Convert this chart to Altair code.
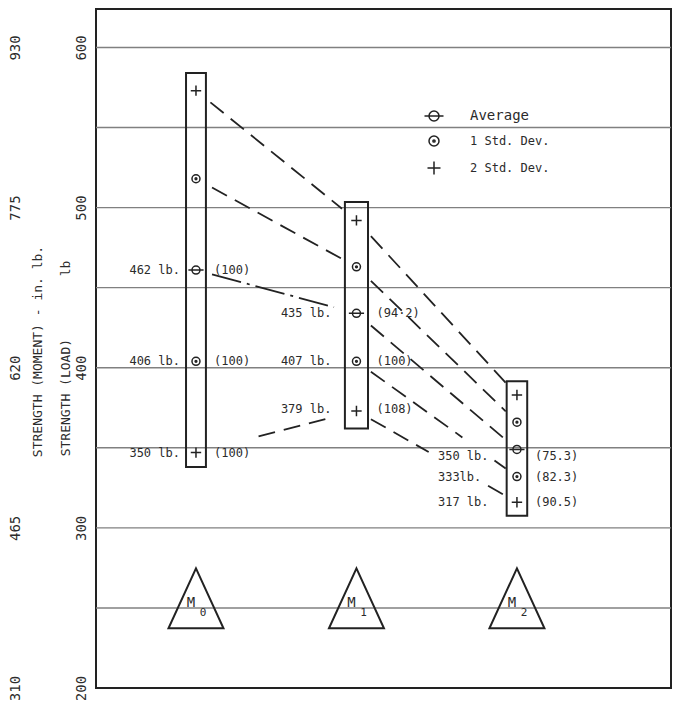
import altair as alt
import pandas as pd

# ---------------- data ----------------
groups = ["M0", "M1", "M2"]
group_pos = [0, 1, 2]
group_sub = ["0", "1", "2"]
levels = ["2 Std. Dev.", "1 Std. Dev.", "Average", "1 Std. Dev.", "2 Std. Dev."]
legend_order = ["Average", "1 Std. Dev.", "2 Std. Dev."]

m0_values = [573, 518, 461, 404, 347]
m1_values = [492, 463, 434, 404, 373]
m2_values = [383, 366, 349, 332, 316]
all_values = [m0_values, m1_values, m2_values]

box_top = [584, 503.5, 391.5]
box_bottom = [338, 362, 307.5]

m0_left = ["462 lb.", "406 lb.", "350 lb."]
m0_right = ["(100)", "(100)", "(100)"]
m1_left = ["435 lb.", "407 lb.", "379 lb."]
m1_right = ["(94·2)", "(100)", "(108)"]
m2_left = ["350 lb.", "333lb.", "317 lb."]
m2_right = ["(75.3)", "(82.3)", "(90.5)"]
label_levels_m0 = [461, 404, 347]
label_levels_m1 = [434, 404, 374]
label_levels_m2 = [345, 332, 316]

load_ticks = [200, 300, 400, 500, 600]
grid_values = [250, 300, 350, 400, 450, 500, 550, 600]
moment_ticks = [310, 465, 620, 775, 930]
moment_factor = 1.55
marker_level = 256

# connectors: (from group, level index, start fraction, end fraction, style)
connectors = [
    (0, 0, 0.09, 0.91, "dash"),
    (0, 1, 0.10, 0.91, "dash"),
    (0, 2, 0.10, 0.86, "dashdot"),
    (0, 4, 0.39, 0.84, "dash"),
    (1, 0, 0.09, 0.93, "dash"),
    (1, 1, 0.09, 0.93, "dash"),
    (1, 2, 0.09, 0.93, "dash"),
    (1, 3, 0.09, 0.66, "dash"),
    (1, 3, 0.86, 0.93, "dash"),
    (1, 4, 0.09, 0.45, "dash"),
    (1, 4, 0.82, 0.93, "dash"),
]

# ---------------- style ----------------
INK = "#222222"
TXT = "#2b2b2b"
FONT = "DejaVu Sans Mono"
box_half_width = [0.062, 0.072, 0.064]
y_top = 624
PLOT_W, PLOT_H = 575, 679

avg_path = "M-1,0A1,1,0,1,0,1,0A1,1,0,1,0,-1,0M-1.9,0H1.9"
sd1_path = "M-1,0A1,1,0,1,0,1,0A1,1,0,1,0,-1,0M-0.22,0A0.22,0.22,0,1,0,0.22,0A0.22,0.22,0,1,0,-0.22,0"
sd2_path = "M-1.3,0H1.3M0,-1.3V1.3"
tri_path = "M0,-1.09L1,1.09L-1,1.09Z"
NB = "\u00a0"

# ---------------- frames ----------------
pts = pd.DataFrame([
    {"pos": g, "value": v, "stat": levels[k]}
    for g, vals in zip(group_pos, all_values) for k, v in enumerate(vals)
])
boxes = pd.DataFrame({
    "x1": [g - w for g, w in zip(group_pos, box_half_width)],
    "x2": [g + w for g, w in zip(group_pos, box_half_width)],
    "top": box_top, "bottom": box_bottom,
})
seg_rows = []
for i, (g, k, t0, t1, style) in enumerate(connectors):
    v0, v1 = all_values[g][k], all_values[g + 1][k]
    for t in (t0, t1):
        seg_rows.append({"seg": i, "style": style, "x": g + t, "y": v0 + t * (v1 - v0)})
segs = pd.DataFrame(seg_rows)
grid_df = pd.DataFrame({"v": grid_values})
tri = pd.DataFrame({"pos": group_pos, "lvl": [marker_level] * 3, "sub": group_sub, "m": ["M"] * 3})
mom = pd.DataFrame({"m": moment_ticks})

x_scale = alt.Scale(domain=[-0.623, 2.96], nice=False, zero=False)
y_scale = alt.Scale(domain=[200, y_top], nice=False, zero=False)

load_title = "STRENGTH (LOAD)" + NB * 8 + "lb"
load_axis = alt.Axis(
    values=load_ticks, grid=False, ticks=False, domain=False,
    labelAngle=270, labelAlign="center", labelBaseline="bottom",
    labelFont=FONT, labelFontSize=14, labelColor=TXT, labelPadding=8,
    title=load_title,
    titleFont=FONT, titleFontSize=13, titleFontWeight="normal", titleColor=TXT,
    titleAngle=270, titleAlign="center", titleBaseline="middle",
    titleX=-31, titleY=349,
)


def X(f):
    return alt.X(f, type="quantitative", scale=x_scale, axis=None)


def Y(f):
    return alt.Y(f, type="quantitative", scale=y_scale, axis=load_axis, title=load_title)


grid = alt.Chart(grid_df).mark_rule(color="#808080", strokeWidth=1.4).encode(
    y=Y("v"), x=alt.value(0), x2=alt.value(PLOT_W))

box_layer = alt.Chart(boxes).mark_rect(fillOpacity=0, stroke=INK, strokeWidth=2).encode(
    x=X("x1"), x2="x2", y=Y("top"), y2="bottom")

dash_layer = alt.Chart(segs).transform_filter("datum.style == 'dash'").mark_line(
    color=INK, strokeWidth=1.8, strokeDash=[17, 9]).encode(x=X("x"), y=Y("y"), detail="seg:N")
dashdot_layer = alt.Chart(segs).transform_filter("datum.style == 'dashdot'").mark_line(
    color=INK, strokeWidth=1.8, strokeDash=[30, 6, 3, 6]).encode(x=X("x"), y=Y("y"), detail="seg:N")

point_layer = alt.Chart(pts).mark_point(filled=False, color=INK, strokeWidth=1.5, size=64, opacity=1).encode(
    x=X("pos"), y=Y("value"),
    shape=alt.Shape("stat:N", scale=alt.Scale(domain=legend_order, range=[avg_path, sd1_path, sd2_path]),
                    legend=alt.Legend(title=None, orient="none", legendX=332, legendY=101,
                                      symbolSize=100, symbolStrokeWidth=1.5, symbolStrokeColor=INK,
                                      labelFont=FONT,
                                      labelFontSize=alt.ExprRef(expr="datum.label == 'Average' ? 14 : 12"),
                                      labelColor=TXT,
                                      labelOffset=30, rowPadding=9, padding=0)),
)

label_specs = [
    (0, m0_left, label_levels_m0, -16, "right"),
    (0, m0_right, label_levels_m0, 18, "left"),
    (1, m1_left, label_levels_m1, -25, "right"),
    (1, m1_right, label_levels_m1, 20, "left"),
    (2, m2_left, label_levels_m2, -79, "left"),
    (2, m2_right, label_levels_m2, 18, "left"),
]
label_layers = []
for g, texts, lv, dx, align in label_specs:
    df = pd.DataFrame({"pos": [group_pos[g]] * len(texts), "lvl": lv, "t": texts})
    label_layers.append(
        alt.Chart(df).mark_text(font=FONT, fontSize=12, color=TXT, align=align, baseline="middle", dx=dx)
        .encode(x=X("pos"), y=Y("lvl"), text="t:N"))

tri_layer = alt.Chart(tri).mark_point(shape=tri_path, size=3025, filled=False, color=INK,
                                      strokeWidth=2, opacity=1).encode(x=X("pos"), y=Y("lvl"))
tri_m = alt.Chart(tri).mark_text(font=FONT, fontSize=14, color=TXT, dx=-5, dy=5).encode(
    x=X("pos"), y=Y("lvl"), text="m:N")
tri_s = alt.Chart(tri).mark_text(font=FONT, fontSize=11, color=TXT, dx=7, dy=15).encode(
    x=X("pos"), y=Y("lvl"), text="sub:N")

main = alt.layer(grid, box_layer, dash_layer, dashdot_layer, point_layer,
                 *label_layers, tri_layer, tri_m, tri_s)

moment_axis = alt.Axis(
    values=moment_ticks, orient="left", offset=66, grid=False, ticks=False, domain=False,
    labelAngle=270, labelAlign="center", labelBaseline="bottom",
    labelFont=FONT, labelFontSize=14, labelColor=TXT, labelPadding=8,
    title="STRENGTH (MOMENT) - in. lb.",
    titleFont=FONT, titleFontSize=13, titleFontWeight="normal", titleColor=TXT,
    titleAngle=270, titleAlign="center", titleBaseline="middle",
    titleX=7, titleY=342,
)
moment_layer = alt.Chart(mom).mark_point(opacity=0).encode(
    x=X("m"),
    y=alt.Y("m:Q", scale=alt.Scale(domain=[200 * moment_factor, y_top * moment_factor], nice=False, zero=False),
            axis=moment_axis),
)

chart = alt.layer(main, moment_layer).resolve_scale(y="independent").properties(
    width=PLOT_W, height=PLOT_H,
    autosize=alt.AutoSizeParams(type="none"),
    padding={"left": 88, "top": 1, "right": 1, "bottom": 12},
).configure(background="white").configure_view(stroke=INK, strokeWidth=2)

chart.save("out.html", embed_options={"renderer": "svg", "actions": False})
